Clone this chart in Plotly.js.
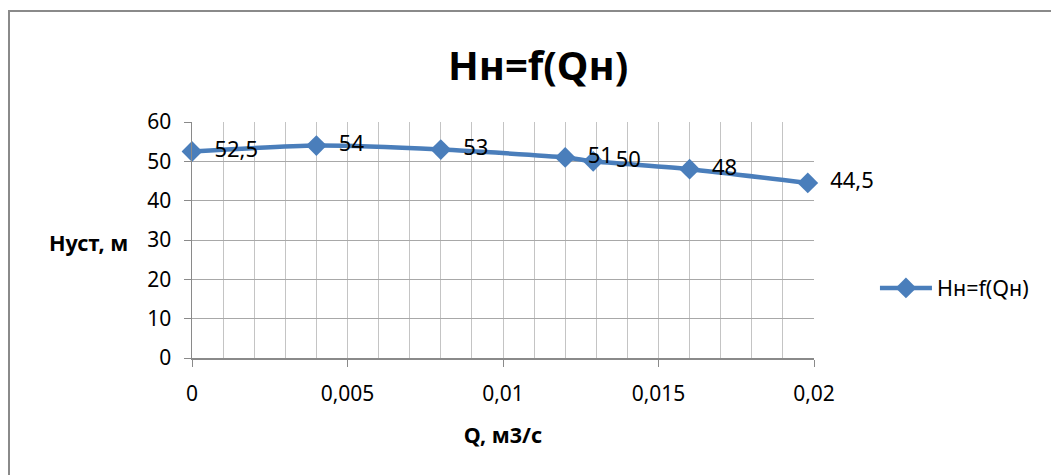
<!DOCTYPE html>
<html>
<head>
<meta charset="utf-8">
<script src="https://cdn.plot.ly/plotly-3.0.1.min.js"></script>
<style>
  html, body { margin: 0; padding: 0; background: #fff; }
  #wrap { position: relative; width: 1051px; height: 475px; overflow: hidden; }
  #chart { position: absolute; left: 0; top: 0; width: 1051px; height: 475px; }
  #frame { position: absolute; left: 8px; top: 10px; width: 1100px; height: 500px;
           border-left: 2px solid #8a8a8a; border-top: 2px solid #8a8a8a; pointer-events: none; }
</style>
</head>
<body>
<div id="wrap">
  <div id="chart"></div>
  <div id="frame"></div>
</div>
<script>
// Data
const seriesName = 'Нн=f(Qн)';
const flowQ = [0, 0.004, 0.008, 0.012, 0.0129, 0.016, 0.0198];
const headH = [52.5, 54, 53, 51, 50, 48, 44.5];
const xTickVals = [0, 0.005, 0.01, 0.015, 0.02];
const xTickText = ['0', '0,005', '0,01', '0,015', '0,02'];
const yTickVals = [0, 10, 20, 30, 40, 50, 60];

const FONT = 'Noto Sans, Open Sans, DejaVu Sans, sans-serif';
const blue = '#4a7ebb';

const labels = headH.map(v => '  ' + String(v).replace('.', ','));

const trace = {
  x: flowQ,
  y: headH,
  name: seriesName,
  type: 'scatter',
  mode: 'lines+markers+text',
  line: { color: blue, width: 4.5, shape: 'spline', smoothing: 0.6 },
  marker: { symbol: 'diamond', size: 16, color: blue },
  text: labels,
  textposition: 'middle right',
  textfont: { family: FONT, size: 22, color: '#000' },
  cliponaxis: false
};

const layout = {
  width: 1051,
  height: 475,
  margin: { l: 192, r: 237, t: 122, b: 117 },
  paper_bgcolor: '#fff',
  plot_bgcolor: '#fff',
  separators: ', ',
  font: { family: FONT, size: 21, color: '#000' },
  title: {
    text: '<b>Нн=f(Qн)</b>',
    font: { family: FONT, size: 40, color: '#000' },
    x: 0.512, xanchor: 'center',
    y: 0.862, yanchor: 'middle'
  },
  xaxis: {
    range: [0, 0.02],
    tickvals: xTickVals,
    ticktext: xTickText,
    ticks: 'outside',
    ticklen: 7,
    tickcolor: '#8a8a8a',
    ticklabelstandoff: 9,
    showline: true,
    linecolor: '#8a8a8a',
    linewidth: 1.5,
    showgrid: true,
    gridcolor: '#c4c4c4',
    gridwidth: 1,
    zeroline: false,
    minor: { dtick: 0.001, showgrid: true, gridcolor: '#c4c4c4', gridwidth: 1 },
    tickfont: { family: FONT, size: 21, color: '#000' },
    title: {
      text: '<b>Q, м3/с</b>',
      font: { family: FONT, size: 21.5, color: '#000' },
      standoff: 22
    }
  },
  yaxis: {
    range: [0, 60],
    tickvals: yTickVals,
    ticks: 'outside',
    ticklen: 7,
    tickcolor: '#8a8a8a',
    ticklabelstandoff: 8,
    showline: true,
    linecolor: '#8a8a8a',
    linewidth: 1.5,
    showgrid: true,
    gridcolor: '#a8a8a8',
    gridwidth: 1,
    zeroline: false,
    tickfont: { family: FONT, size: 21, color: '#000' }
  },
  legend: {
    x: 1.098, xanchor: 'left',
    y: 0.297, yanchor: 'middle',
    itemwidth: 52,
    font: { family: FONT, size: 21.5, color: '#000' },
    bgcolor: 'rgba(0,0,0,0)'
  },
  showlegend: true,
  annotations: [{
    text: '<b>Нуст, м</b>',
    xref: 'paper', yref: 'paper',
    x: -0.1, xanchor: 'right',
    y: 0.49, yanchor: 'middle',
    showarrow: false,
    font: { family: FONT, size: 21.5, color: '#000' }
  }]
};

Plotly.newPlot('chart', [trace], layout, { displayModeBar: false, staticPlot: true });
</script>
</body>
</html>
